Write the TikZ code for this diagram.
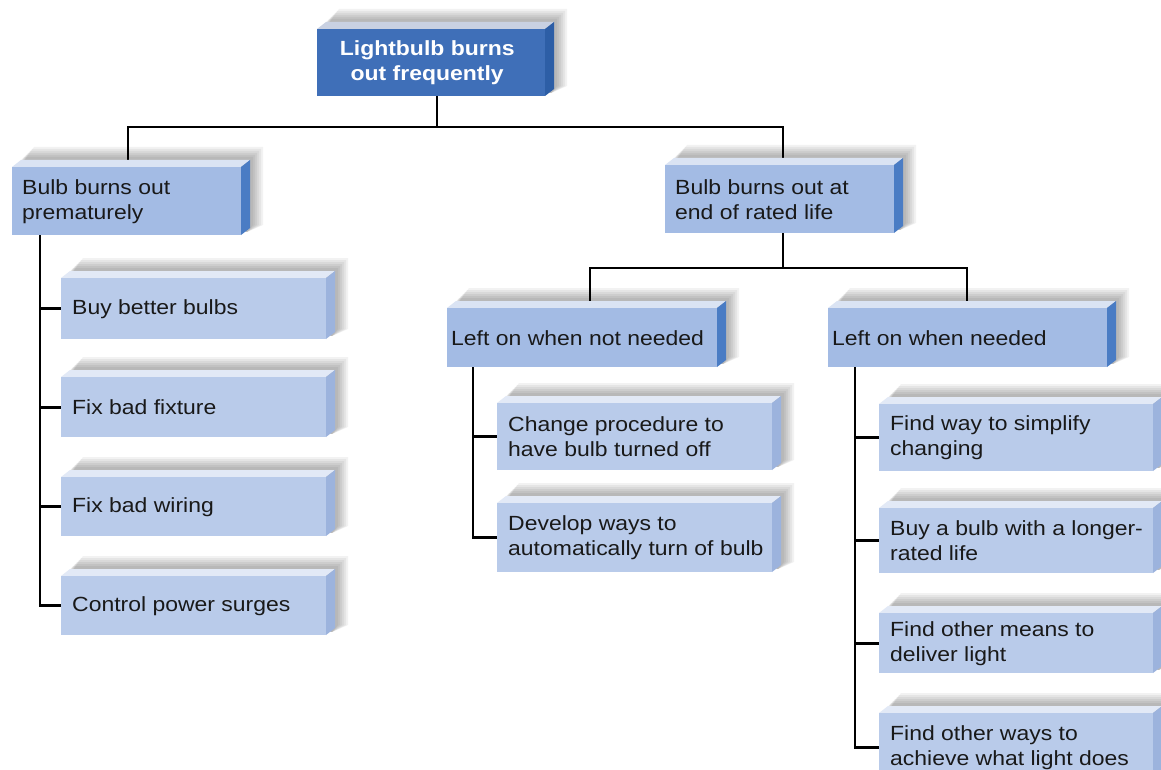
\documentclass[tikz,border=0pt]{standalone}
\usepackage{fontspec}
\setmainfont{Liberation Sans}[FakeStretch=1.12]
\pgfdeclarelayer{bg}
\pgfsetlayers{bg,main}
\definecolor{zfront}{HTML}{3F6FB8}
\definecolor{zside}{HTML}{2D5EA6}
\definecolor{ztop}{HTML}{C9D1E2}
\definecolor{afront}{HTML}{A3BBE4}
\definecolor{aside}{HTML}{4A7CC4}
\definecolor{atop}{HTML}{DAE3F3}
\definecolor{lfront}{HTML}{B9CBEA}
\definecolor{lside}{HTML}{9CB3DD}
\definecolor{ltop}{HTML}{E2E9F6}
\newcommand\fs{\fontsize{20.5}{25}\selectfont}
\tikzset{
  lvz front/.style={fill=zfront},
  lvz side/.style={fill=zside},
  lvz top/.style={fill=ztop},
  lva front/.style={fill=afront},
  lva side/.style={fill=aside},
  lva top/.style={fill=atop},
  lvl front/.style={fill=lfront},
  lvl side/.style={fill=lside},
  lvl top/.style={fill=ltop},
  conn/.style={line width=2.7pt, black},
  lbl/.style={anchor=west, align=left, inner sep=0pt, font=\fs, text=black!90},
  lblz/.style={align=center, inner sep=0pt, font=\fs\bfseries, text=white}
}
\newcommand\cubebox[6]{%
  \foreach \e in {10,8,...,0}{\fill[black,opacity=0.05] (#2+6+0.4*\e,#3-3) -- (#2+12+\e,#3-10-\e) -- (#4+12+\e,#3-10-\e) -- (#4+12+\e,#5-10) -- (#4+6,#5-3) -- cycle;}
  \fill[#6 top] (#2,#3) -- (#2+9,#3-7) -- (#4+9,#3-7) -- (#4,#3) -- cycle;
  \fill[#6 side] (#4,#3) -- (#4+9,#3-7) -- (#4+9,#5-7) -- (#4,#5) -- cycle;
  \node[#6 front, anchor=north west, inner sep=0pt, minimum width={#4-#2}, minimum height={#5-#3}] (#1) at (#2,#3) {};
}
\begin{document}
\begin{tikzpicture}[x=1pt,y=-1pt]
\useasboundingbox (0,0) rectangle (1161,770);
\clip (0,0) rectangle (1161,770);

\cubebox{top}{317}{29}{545}{96}{lvz}
\cubebox{b1}{12}{167}{241}{235}{lva}
\cubebox{b3}{665}{165}{894}{233}{lva}
\cubebox{b4}{447}{308}{717}{367}{lva}
\cubebox{b5}{828}{308}{1107}{367}{lva}
\cubebox{l1}{61}{278}{326}{339}{lvl}
\cubebox{l2}{61}{377}{326}{437}{lvl}
\cubebox{l3}{61}{477}{326}{536}{lvl}
\cubebox{l4}{61}{576}{326}{635}{lvl}
\cubebox{m1}{497}{403}{772}{470}{lvl}
\cubebox{m2}{497}{503}{772}{572}{lvl}
\cubebox{r1}{879}{404}{1153}{471}{lvl}
\cubebox{r2}{879}{508}{1153}{573}{lvl}
\cubebox{r3}{879}{613}{1153}{673}{lvl}
\cubebox{r4}{879}{713}{1153}{781}{lvl}

\node[lblz] (topt) at ([xshift=-4pt]top.center) {Lightbulb burns\\out frequently};
\node[lbl] (b1t) at ([xshift=10pt]b1.west) {Bulb burns out\\prematurely};
\node[lbl] (b3t) at ([xshift=10pt]b3.west) {Bulb burns out at\\end of rated life};
\node[lbl] (b4t) at ([xshift=4pt]b4.west) {Left on when not needed};
\node[lbl] (b5t) at ([xshift=4pt]b5.west) {Left on when needed};
\node[lbl] (l1t) at ([xshift=11pt]l1.west) {Buy better bulbs};
\node[lbl] (l2t) at ([xshift=11pt]l2.west) {Fix bad fixture};
\node[lbl] (l3t) at ([xshift=11pt]l3.west) {Fix bad wiring};
\node[lbl] (l4t) at ([xshift=11pt]l4.west) {Control power surges};
\node[lbl] (m1t) at ([xshift=11pt]m1.west) {Change procedure to\\have bulb turned off};
\node[lbl] (m2t) at ([xshift=11pt]m2.west) {Develop ways to\\automatically turn of bulb};
\node[lbl] (r1t) at ([xshift=11pt]r1.west) {Find way to simplify\\changing};
\node[lbl] (r2t) at ([xshift=11pt]r2.west) {Buy a bulb with a longer-\\rated life};
\node[lbl] (r3t) at ([xshift=11pt]r3.west) {Find other means to\\deliver light};
\node[lbl] (r4t) at ([xshift=11pt]r4.west) {Find other ways to\\achieve what light does};

\coordinate (j0) at (437,127);
\coordinate (j1) at (128,127);
\coordinate (j3) at (783,127);
\coordinate (j2) at (783,268);
\coordinate (j4) at (590,268);
\coordinate (j5) at (967,268);
\coordinate (t1) at (40,0);
\coordinate (t4) at (473,0);
\coordinate (t5) at (855,0);

\begin{pgfonlayer}{bg}
\fill[white] (0,0) rectangle (1161,770);
\draw[conn] (top.south -| j0) -- (j0);
\draw[conn] (b1.north -| j1) |- (j0) -| (b3.north -| j3);
\draw[conn] (b3.south -| j3) -- (j2);
\draw[conn] (b4.north -| j4) |- (j2) -| (b5.north -| j5);
\draw[conn] (b1.south -| t1) |- (l4.west);
\foreach \n in {l1,l2,l3} \draw[conn] (\n.west) -- (\n.west -| t1);
\draw[conn] (b4.south -| t4) |- (m2.west);
\draw[conn] (m1.west) -- (m1.west -| t4);
\draw[conn] (b5.south -| t5) |- (r4.west);
\foreach \n in {r1,r2,r3} \draw[conn] (\n.west) -- (\n.west -| t5);
\end{pgfonlayer}
\end{tikzpicture}
\end{document}
